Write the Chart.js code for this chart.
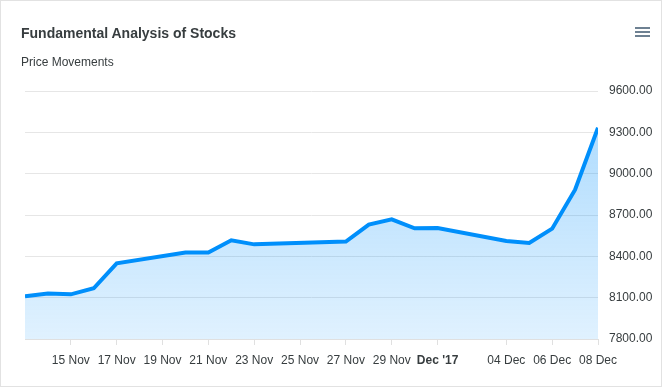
<!DOCTYPE html>
<html>
<head>
<meta charset="utf-8">
<script src="https://cdn.jsdelivr.net/npm/chart.js@4"></script>
<style>
  html, body { margin: 0; padding: 0; background: #fff; }
  body { width: 662px; height: 387px; position: relative; overflow: hidden; font-family: "Liberation Sans", Arial, sans-serif; }
  #frame { position: absolute; left: 0; top: 0; width: 660px; height: 385px; border: 1px solid #e2e2e2; pointer-events: none; }
  #title { position: absolute; left: 21px; top: 25px; font-size: 14px; line-height: 16px; font-weight: bold; color: #373d3f; }
  #subtitle { position: absolute; left: 21px; top: 55px; font-size: 12px; line-height: 14px; color: #373d3f; }
  #menu { position: absolute; left: 635px; top: 27px; width: 15px; }
  #menu span { display: block; height: 2px; background: #6e8192; margin-bottom: 2px; }
  #chart { position: absolute; left: 0; top: 0; }
</style>
</head>
<body>
<canvas id="chart" width="662" height="387"></canvas>
<div id="title">Fundamental Analysis of Stocks</div>
<div id="subtitle">Price Movements</div>
<div id="menu"><span></span><span></span><span></span></div>
<div id="frame"></div>
<script>
// trading days and closing prices
const dates = [
  '2017-11-13', '2017-11-14', '2017-11-15', '2017-11-16', '2017-11-17',
  '2017-11-20', '2017-11-21', '2017-11-22', '2017-11-23',
  '2017-11-27', '2017-11-28', '2017-11-29', '2017-11-30', '2017-12-01',
  '2017-12-04', '2017-12-05', '2017-12-06', '2017-12-07', '2017-12-08'
];
const prices = [
  8110, 8131, 8124, 8168, 8349,
  8427, 8427, 8516, 8487,
  8507, 8630, 8669, 8603, 8606,
  8511, 8497, 8601, 8884, 9334
];

// x axis tick dates and labels
const tickDates = [
  '2017-11-15', '2017-11-17', '2017-11-19', '2017-11-21', '2017-11-23',
  '2017-11-25', '2017-11-27', '2017-11-29', '2017-12-01',
  '2017-12-04', '2017-12-06', '2017-12-08'
];
const tickLabels = [
  '15 Nov', '17 Nov', '19 Nov', '21 Nov', '23 Nov',
  '25 Nov', '27 Nov', '29 Nov', "Dec '17",
  '04 Dec', '06 Dec', '08 Dec'
];
const boldTick = "Dec '17";

const yMin = 7800;
const yMax = 9600;
const yStep = 300;

const DAY = 86400000;
const start = Date.parse(dates[0]);
const dayOf = d => (Date.parse(d) - start) / DAY;

const points = dates.map((d, i) => ({ x: dayOf(d), y: prices[i] }));
const tickDays = tickDates.map(dayOf);
const labelFor = {};
tickDays.forEach((d, i) => { labelFor[d] = tickLabels[i]; });

const ctx = document.getElementById('chart').getContext('2d');

new Chart(ctx, {
  type: 'line',
  data: {
    datasets: [{
      data: points,
      borderColor: '#008ffb',
      borderWidth: 4,
      pointRadius: 0,
      tension: 0,
      fill: 'start',
      backgroundColor: (c) => {
        const area = c.chart.chartArea;
        if (!area) return 'rgba(0,143,251,0.25)';
        const g = c.chart.ctx.createLinearGradient(0, area.top, 0, area.bottom);
        g.addColorStop(0, 'rgba(0,143,251,0.34)');
        g.addColorStop(1, 'rgba(0,143,251,0.12)');
        return g;
      }
    }]
  },
  options: {
    responsive: false,
    animation: false,
    layout: { padding: { left: 25, top: 91, right: 0, bottom: 0 } },
    plugins: {
      legend: { display: false },
      tooltip: { enabled: false }
    },
    scales: {
      x: {
        type: 'linear',
        min: 0,
        max: dayOf(dates[dates.length - 1]),
        afterBuildTicks: (scale) => {
          scale.ticks = tickDays.map(v => ({ value: v }));
        },
        afterFit: (scale) => { scale.height = 48; },
        grid: {
          drawOnChartArea: false,
          drawTicks: true,
          tickLength: 6,
          color: '#e0e0e0'
        },
        border: { display: true, color: '#e0e0e0' },
        ticks: {
          autoSkip: false,
          maxRotation: 0,
          padding: 8,
          color: '#373d3f',
          font: (c) => ({
            family: '"Liberation Sans", Arial, sans-serif',
            size: 12,
            weight: (c.tick && labelFor[c.tick.value] === boldTick) ? 'bold' : 'normal'
          }),
          callback: (v) => labelFor[v] || ''
        }
      },
      y: {
        position: 'right',
        min: yMin,
        max: yMax,
        afterFit: (scale) => { scale.width = 64; },
        grid: {
          color: '#e6e6e6',
          drawTicks: false
        },
        border: { display: false },
        ticks: {
          stepSize: yStep,
          padding: 11,
          color: '#373d3f',
          font: { family: '"Liberation Sans", Arial, sans-serif', size: 12 },
          callback: (v) => v.toFixed(2)
        }
      }
    }
  }
});
</script>
</body>
</html>
